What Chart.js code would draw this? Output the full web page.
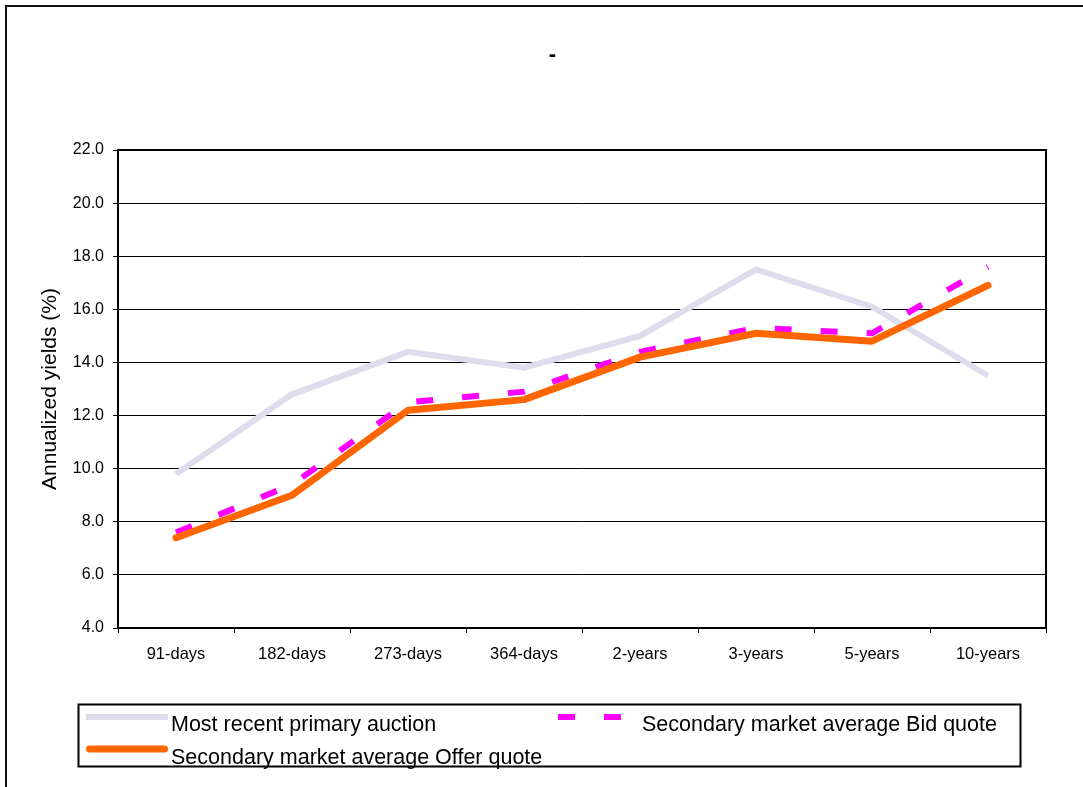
<!DOCTYPE html>
<html>
<head>
<meta charset="utf-8">
<title>Annualized yields</title>
<script src="https://cdn.jsdelivr.net/npm/chart.js@4.4.1/dist/chart.umd.min.js"></script>
<style>
  html, body { margin: 0; padding: 0; background: #fff; overflow: hidden; }
  #wrap { position: relative; width: 1083px; height: 787px; }
</style>
</head>
<body>
<div id="wrap"><canvas id="yields" width="1083" height="787"></canvas></div>
<script>
// Tenors along the curve
const categories = ['91-days', '182-days', '273-days', '364-days', '2-years', '3-years', '5-years', '10-years'];

// Yields in percent per tenor
const primaryAuction = [9.8, 12.8, 14.4, 13.8, 15.0, 17.5, 16.1, 13.5];
const bidQuote       = [7.6, 9.4, 12.5, 12.9, 14.4, 15.3, 15.1, 17.6];
const offerQuote     = [7.4, 9.0, 12.2, 12.6, 14.2, 15.1, 14.8, 16.9];

const seriesNames = [
  'Most recent primary auction',
  'Secondary market average Bid quote',
  'Secondary market average Offer quote'
];
const yAxisTitle = 'Annualized yields (%)';
const chartTitle = '-';
const yMin = 4, yMax = 22, yStep = 2;

const FONT = '"Liberation Sans", Arial, Helvetica, sans-serif';
Chart.defaults.font.family = FONT;
Chart.defaults.color = '#000';

// Outer frame, plot-area edges, title mark and the boxed two-column legend
const decorations = {
  id: 'decorations',
  afterDraw(chart) {
    const ctx = chart.ctx;
    const a = chart.chartArea;
    const ds = chart.data.datasets;
    ctx.save();

    // outer frame (runs past the right/bottom edge of the page)
    ctx.strokeStyle = '#111';
    ctx.lineWidth = 2;
    ctx.strokeRect(6, 6, 2000, 2000);

    // plot-area top and right edges
    ctx.strokeStyle = '#000';
    ctx.lineWidth = 2;
    ctx.beginPath();
    ctx.moveTo(a.left, a.top);
    ctx.lineTo(a.right, a.top);
    ctx.lineTo(a.right, a.bottom);
    ctx.stroke();

    // title
    ctx.fillStyle = '#000';
    ctx.font = 'bold 22px ' + FONT;
    ctx.textAlign = 'center';
    ctx.textBaseline = 'alphabetic';
    ctx.fillText(chartTitle, 552.5, 61);

    // legend box
    ctx.strokeStyle = '#000';
    ctx.lineWidth = 2;
    ctx.strokeRect(78.5, 704.5, 942, 62);

    const swatch = (d, x1, x2, y) => {
      ctx.save();
      ctx.strokeStyle = d.borderColor;
      ctx.lineWidth = d.borderWidth;
      ctx.lineCap = d.borderCapStyle || 'butt';
      ctx.setLineDash(d.borderDash || []);
      ctx.beginPath();
      ctx.moveTo(x1, y);
      ctx.lineTo(x2, y);
      ctx.stroke();
      ctx.restore();
    };
    swatch(ds[0], 86, 168, 717);
    swatch(ds[1], 558, 621, 717);
    swatch(ds[2], 89.5, 164.5, 749);

    ctx.fillStyle = '#000';
    ctx.font = '21.5px ' + FONT;
    ctx.textAlign = 'left';
    ctx.textBaseline = 'alphabetic';
    ctx.fillText(ds[0].label, 171, 731);
    ctx.fillText(ds[1].label, 642, 731);
    ctx.fillText(ds[2].label, 171, 764);

    ctx.restore();
  }
};

new Chart(document.getElementById('yields'), {
  type: 'line',
  data: {
    labels: categories,
    datasets: [
      {
        label: seriesNames[0],
        data: primaryAuction,
        borderColor: '#DDDDEE',
        borderWidth: 6,
        borderCapStyle: 'butt',
        borderJoinStyle: 'miter',
        pointRadius: 0,
        tension: 0,
        fill: false,
        order: 3
      },
      {
        label: seriesNames[1],
        data: bidQuote,
        borderColor: '#FF00FF',
        borderWidth: 6,
        borderDash: [17, 29],
        borderCapStyle: 'butt',
        borderJoinStyle: 'miter',
        pointRadius: 0,
        tension: 0,
        fill: false,
        order: 2
      },
      {
        label: seriesNames[2],
        data: offerQuote,
        borderColor: '#FF6600',
        borderWidth: 7,
        borderCapStyle: 'round',
        borderJoinStyle: 'round',
        pointRadius: 0,
        tension: 0,
        fill: false,
        order: 1
      }
    ]
  },
  options: {
    responsive: false,
    animation: false,
    devicePixelRatio: 1,
    layout: { padding: { left: 38, right: 37, top: 150, bottom: 87 } },
    plugins: {
      legend: { display: false },
      title: { display: false },
      tooltip: { enabled: false }
    },
    scales: {
      x: {
        type: 'category',
        offset: true,
        grid: { offset: true, drawOnChartArea: false, drawTicks: true, tickLength: 5, color: '#000', lineWidth: 1 },
        border: { color: '#000', width: 2 },
        ticks: { font: { size: 16.5 }, color: '#000', padding: 12, maxRotation: 0, autoSkip: false },
        afterFit(s) { s.height = 72; }
      },
      y: {
        min: yMin,
        max: yMax,
        grid: { color: '#000', lineWidth: 1, tickLength: 5 },
        border: { color: '#000', width: 2 },
        ticks: {
          stepSize: yStep,
          font: { size: 16 },
          color: '#000',
          padding: 9,
          callback: v => Number(v).toFixed(1)
        },
        title: { display: true, text: yAxisTitle, font: { size: 21 }, color: '#000', padding: 0 },
        afterFit(s) { s.width = 80; }
      }
    }
  },
  plugins: [decorations]
});
</script>
</body>
</html>
